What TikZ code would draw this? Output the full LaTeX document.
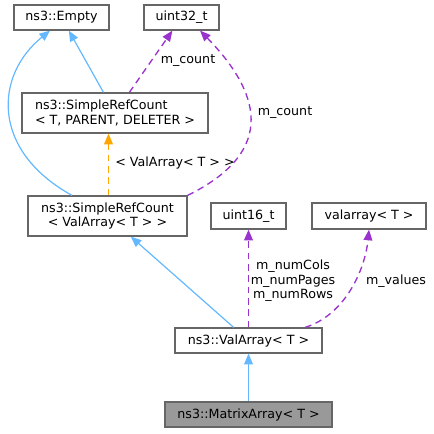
\documentclass[tikz,border=0pt]{standalone}
\usepackage{fontspec}
\setmainfont{DejaVu Sans}
\usetikzlibrary{arrows.meta}
\definecolor{inhblue}{HTML}{63B8FF}
\definecolor{usepurple}{HTML}{9A32CD}
\definecolor{tmplorange}{HTML}{FFA500}
\definecolor{boxgray}{HTML}{666666}
\definecolor{curgray}{HTML}{999999}
\begin{document}
\begin{tikzpicture}[x=0.75pt, y=-0.75pt,
  every node/.style={font=\fontsize{9.5}{11}\selectfont},
  cls/.style={draw=boxgray, line width=0.9pt, inner sep=0pt, minimum height=18.75pt},
  tip/.style={-{Triangle[length=8pt,width=6.5pt]}},
  inh/.style={draw=inhblue, line width=0.9pt, tip},
  usage/.style={draw=usepurple, line width=1pt, dash pattern=on 5pt off 3.5pt, tip},
  tmpl/.style={draw=tmplorange, line width=1pt, dash pattern=on 5pt off 3.5pt, tip}]
\useasboundingbox (0,0) rectangle (434,433);

\node (empty) at (61.5, 17.5) [cls, minimum width=71.25pt] {ns3::Empty};
\node (u32) at (181.5, 17.5) [cls, minimum width=56.25pt] {uint32\_t};
\node (src1) at (115, 113) [cls, minimum width=139.5pt, minimum height=30pt, align=left] {ns3::SimpleRefCount\\< T, PARENT, DELETER >};
\node (src2) at (107.5, 216) [cls, minimum width=119.25pt, minimum height=30pt, align=center] {ns3::SimpleRefCount\\< ValArray< T > >};
\node (u16) at (248.5, 216) [cls, minimum width=56.25pt, minimum height=19.5pt] {uint16\_t};
\node (varr) at (369, 216) [cls, minimum width=85.5pt, minimum height=19.5pt] {valarray< T >};
\node (val) at (248.5, 340.5) [cls, minimum width=110.25pt] {ns3::ValArray< T >};
\node (mat) at (248.5, 414.5) [cls, fill=curgray, minimum width=125.25pt] {ns3::MatrixArray< T >};

\node (lcount1) at (188, 61) {m\_count};
\node (lcount2) at (285, 113) {m\_count};
\node (ltmpl) at (175, 163) {< ValArray< T > >};
\node (ldims) at (293, 281) [align=center] {m\_numCols\\m\_numPages\\m\_numRows};
\node (lvalues) at (396, 281) {m\_values};

\coordinate (tmplbase) at ([xshift=0.75pt]src2.north);
\draw[inh] (src1) to (empty);
\draw[inh] ([xshift=-26.6pt]src2.north) .. controls (-10, 150) and (-5, 75) .. ([xshift=-8.6pt]empty.south);
\draw[usage] (src1) to (u32);
\draw[usage] (src2.north east) .. controls (280, 150) and (258, 90) .. ([xshift=13.9pt]u32.south);
\draw[tmpl] (tmplbase) to (tmplbase |- src1.south);
\draw[inh] (val) to (src2);
\draw[usage] (val) to (u16);
\draw[usage] ([xshift=42.4pt]val.north) .. controls (345, 315) and (365, 270) .. (varr.south);
\draw[inh] (mat) to (val);
\end{tikzpicture}
\end{document}
